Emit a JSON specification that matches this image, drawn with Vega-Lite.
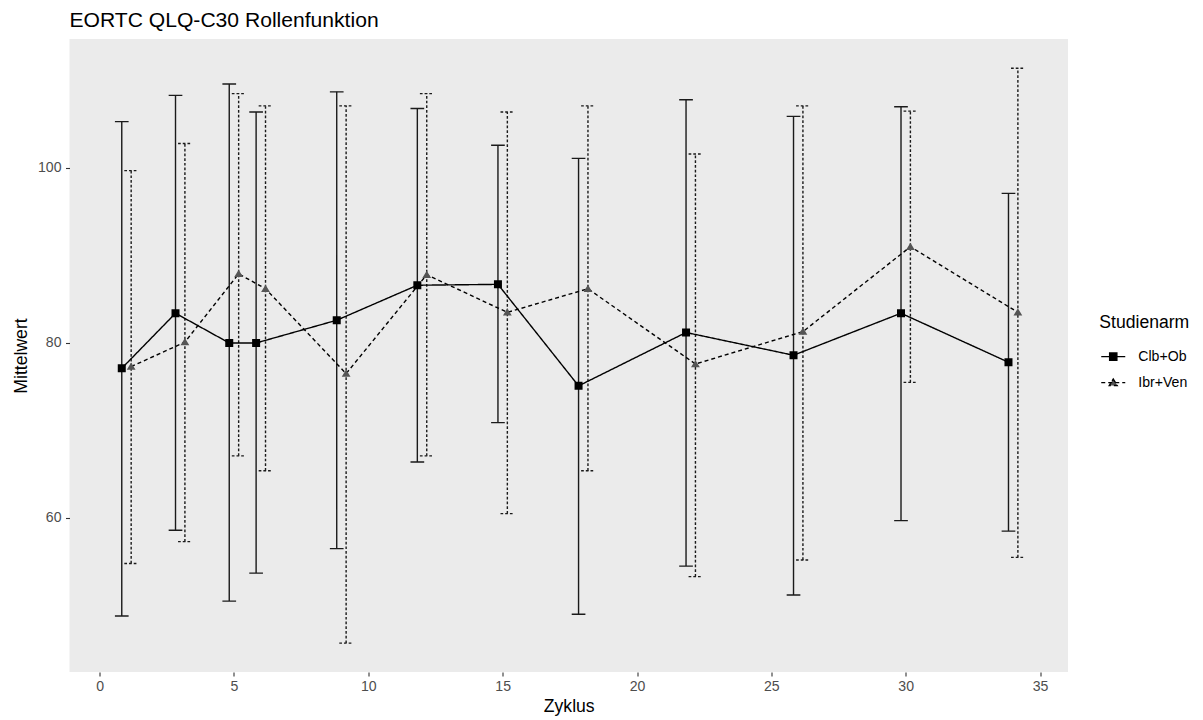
{
  "$schema": "https://vega.github.io/schema/vega-lite/v6.json",
  "width": 998.5,
  "height": 633,
  "autosize": {"type": "none"},
  "padding": {"left": 69.5, "top": 39, "right": 135, "bottom": 48},
  "background": "white",
  "title": {"text": "EORTC QLQ-C30 Rollenfunktion", "anchor": "start", "frame": "group", "font": "Liberation Sans", "fontSize": 21.1, "fontWeight": "normal", "color": "black", "offset": 8},
  "config": {
    "view": {"fill": "#EBEBEB", "stroke": null},
    "font": "Liberation Sans",
    "axis": {"grid": false, "domain": false, "tickColor": "#333333", "tickSize": 4, "tickWidth": 1.1, "labelColor": "#4D4D4D", "labelFontSize": 14.1, "labelFont": "Liberation Sans", "titleFont": "Liberation Sans", "titleFontSize": 17.6, "titleFontWeight": "normal", "titleColor": "black", "labelPadding": 3.5},
    "legend": {"orient": "none", "legendX": 1029.8, "legendY": 275, "titleFontSize": 17.6, "titleFontWeight": "normal", "titleColor": "black", "titleFont": "Liberation Sans", "labelFontSize": 14.1, "labelColor": "black", "labelFont": "Liberation Sans", "symbolSize": 52, "symbolOffset": 6.9, "labelOffset": 18, "rowPadding": 11, "padding": 0, "titlePadding": 18, "symbolStrokeColor": "black", "symbolStrokeWidth": 1.4, "symbolOpacity": 1}
  },
  "data": {"values": [
    {"Zyklus": 1, "Studienarm": "Clb+Ob", "Mittelwert": 77.1, "lo": 48.8, "hi": 105.3},
    {"Zyklus": 3, "Studienarm": "Clb+Ob", "Mittelwert": 83.4, "lo": 58.6, "hi": 108.3},
    {"Zyklus": 5, "Studienarm": "Clb+Ob", "Mittelwert": 80.0, "lo": 50.5, "hi": 109.6},
    {"Zyklus": 6, "Studienarm": "Clb+Ob", "Mittelwert": 80.0, "lo": 53.7, "hi": 106.4},
    {"Zyklus": 9, "Studienarm": "Clb+Ob", "Mittelwert": 82.6, "lo": 56.5, "hi": 108.7},
    {"Zyklus": 12, "Studienarm": "Clb+Ob", "Mittelwert": 86.6, "lo": 66.4, "hi": 106.8},
    {"Zyklus": 15, "Studienarm": "Clb+Ob", "Mittelwert": 86.7, "lo": 70.9, "hi": 102.6},
    {"Zyklus": 18, "Studienarm": "Clb+Ob", "Mittelwert": 75.1, "lo": 49.0, "hi": 101.1},
    {"Zyklus": 22, "Studienarm": "Clb+Ob", "Mittelwert": 81.2, "lo": 54.5, "hi": 107.8},
    {"Zyklus": 26, "Studienarm": "Clb+Ob", "Mittelwert": 78.6, "lo": 51.2, "hi": 105.9},
    {"Zyklus": 30, "Studienarm": "Clb+Ob", "Mittelwert": 83.4, "lo": 59.7, "hi": 107.0},
    {"Zyklus": 34, "Studienarm": "Clb+Ob", "Mittelwert": 77.8, "lo": 58.5, "hi": 97.1},
    {"Zyklus": 1, "Studienarm": "Ibr+Ven", "Mittelwert": 77.3, "lo": 54.8, "hi": 99.7},
    {"Zyklus": 3, "Studienarm": "Ibr+Ven", "Mittelwert": 80.1, "lo": 57.3, "hi": 102.8},
    {"Zyklus": 5, "Studienarm": "Ibr+Ven", "Mittelwert": 87.9, "lo": 67.1, "hi": 108.5},
    {"Zyklus": 6, "Studienarm": "Ibr+Ven", "Mittelwert": 86.2, "lo": 65.4, "hi": 107.1},
    {"Zyklus": 9, "Studienarm": "Ibr+Ven", "Mittelwert": 76.5, "lo": 45.7, "hi": 107.1},
    {"Zyklus": 12, "Studienarm": "Ibr+Ven", "Mittelwert": 87.8, "lo": 67.1, "hi": 108.5},
    {"Zyklus": 15, "Studienarm": "Ibr+Ven", "Mittelwert": 83.5, "lo": 60.5, "hi": 106.4},
    {"Zyklus": 18, "Studienarm": "Ibr+Ven", "Mittelwert": 86.2, "lo": 65.4, "hi": 107.1},
    {"Zyklus": 22, "Studienarm": "Ibr+Ven", "Mittelwert": 77.6, "lo": 53.3, "hi": 101.6},
    {"Zyklus": 26, "Studienarm": "Ibr+Ven", "Mittelwert": 81.3, "lo": 55.2, "hi": 107.1},
    {"Zyklus": 30, "Studienarm": "Ibr+Ven", "Mittelwert": 91.0, "lo": 75.5, "hi": 106.5},
    {"Zyklus": 34, "Studienarm": "Ibr+Ven", "Mittelwert": 83.5, "lo": 55.5, "hi": 111.4}
  ]},
  "encoding": {
    "x": {"field": "Zyklus", "type": "quantitative", "scale": {"domain": [-1.12, 36.04], "nice": false, "zero": false}, "axis": {"values": [0, 5, 10, 15, 20, 25, 30, 35], "title": "Zyklus", "titlePadding": 4}}
  },
  "layer": [
    {
      "mark": {"type": "rule", "strokeWidth": 1.4, "color": "#1a1a1a",
        "xOffset": {"expr": "datum.Studienarm === 'Clb+Ob' ? -4.7 : 4.7"},
        "strokeDash": {"expr": "datum.Studienarm === 'Clb+Ob' ? [1,0] : [2.7,2]"}},
      "encoding": {
        "y": {"field": "lo", "type": "quantitative", "scale": {"domain": [42.4, 114.74], "nice": false, "zero": false}, "axis": {"values": [60, 80, 100], "title": "Mittelwert", "titlePadding": 7, "labelPadding": 4.5}},
        "y2": {"field": "hi"}
      }
    },
    {
      "mark": {"type": "rule", "strokeWidth": 1.4, "color": "#1a1a1a",
        "xOffset": {"expr": "(datum.Studienarm === 'Clb+Ob' ? -4.7 : 4.7) - 6.85"},
        "x2Offset": {"expr": "(datum.Studienarm === 'Clb+Ob' ? -4.7 : 4.7) + 6.85"},
        "strokeDash": {"expr": "datum.Studienarm === 'Clb+Ob' ? [1,0] : [2.7,2]"}},
      "encoding": {
        "x2": {"field": "Zyklus"},
        "y": {"field": "hi", "type": "quantitative"}
      }
    },
    {
      "mark": {"type": "rule", "strokeWidth": 1.4, "color": "#1a1a1a",
        "xOffset": {"expr": "(datum.Studienarm === 'Clb+Ob' ? -4.7 : 4.7) - 6.85"},
        "x2Offset": {"expr": "(datum.Studienarm === 'Clb+Ob' ? -4.7 : 4.7) + 6.85"},
        "strokeDash": {"expr": "datum.Studienarm === 'Clb+Ob' ? [1,0] : [2.7,2]"}},
      "encoding": {
        "x2": {"field": "Zyklus"},
        "y": {"field": "lo", "type": "quantitative"}
      }
    },
    {
      "mark": {"type": "line", "strokeWidth": 1.4,
        "xOffset": {"expr": "datum.Studienarm === 'Clb+Ob' ? -4.7 : 4.7"}},
      "encoding": {
        "y": {"field": "Mittelwert", "type": "quantitative"},
        "stroke": {"field": "Studienarm", "type": "nominal",
          "scale": {"domain": ["Clb+Ob", "Ibr+Ven"], "range": ["black", "black"]},
          "legend": {"title": "Studienarm"}},
        "strokeDash": {"field": "Studienarm", "type": "nominal",
          "scale": {"domain": ["Clb+Ob", "Ibr+Ven"], "range": [[1, 0], [4, 3]]},
          "legend": {"title": "Studienarm"}}
      }
    },
    {
      "mark": {"type": "point", "filled": true, "size": 64, "opacity": 1,
        "xOffset": {"expr": "datum.Studienarm === 'Clb+Ob' ? -4.7 : 4.7"}},
      "encoding": {
        "y": {"field": "Mittelwert", "type": "quantitative"},
        "color": {"field": "Studienarm", "type": "nominal",
          "scale": {"domain": ["Clb+Ob", "Ibr+Ven"], "range": ["black", "#555555"]},
          "legend": {"title": "Studienarm"}},
        "shape": {"field": "Studienarm", "type": "nominal",
          "scale": {"domain": ["Clb+Ob", "Ibr+Ven"], "range": ["M-3.33,0H3.33M-1,-1H1V1H-1Z", "M-3.33,0H3.33M0,-1L1.1,0.8H-1.1Z"]},
          "legend": {"title": "Studienarm"}}
      }
    }
  ]
}
